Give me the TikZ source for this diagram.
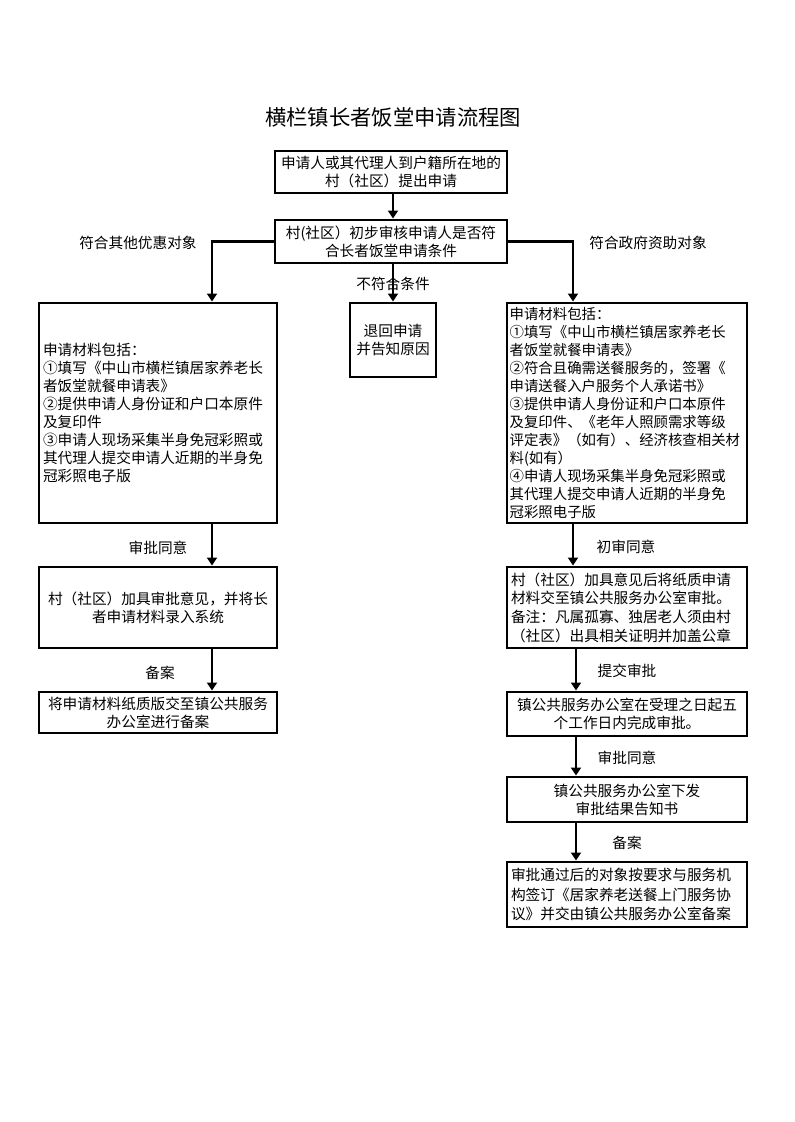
\documentclass[tikz,border=0pt]{standalone}
\usepackage{fontspec}
\setmainfont{Noto Sans CJK SC}
\usetikzlibrary{arrows.meta}
\begin{document}
\begin{tikzpicture}[x=0.75pt,y=-0.75pt,
  box/.style={draw,line width=2.2pt,inner sep=0pt,font=\fontsize{11pt}{13.5pt}\selectfont},
  lbl/.style={inner sep=0pt,font=\fontsize{11pt}{13.5pt}\selectfont},
  arr/.style={line width=2.2pt,-{Triangle[length=6pt,width=7.5pt]}},
  ln/.style={line width=2.2pt}]
\useasboundingbox (0,0) rectangle (794,1122);
\fill[white] (0,0) rectangle (794,1122);

\node[inner sep=0pt,font=\fontsize{16pt}{19pt}\selectfont] (title) at (393,117) {横栏镇长者饭堂申请流程图};

\coordinate (cx) at (393,0);
\coordinate (lx) at (212,0);
\coordinate (rx) at (573,0);
\coordinate (rx2) at (576,0);

\node[box,minimum width=174pt,minimum height=31.5pt,text width=168pt,align=center] (b1) at (391,172)
  {申请人或其代理人到户籍所在地的\\村（社区）提出申请};
\node[box,minimum width=174pt,minimum height=32.25pt,text width=168pt,align=center] (b2) at (391,241.5)
  {村(社区）初步审核申请人是否符\\合长者饭堂申请条件};

\node[box,minimum width=178.5pt,minimum height=165pt,text width=172.5pt,align=left] (lb1) at (158,413)
  {申请材料包括：\\①填写《中山市横栏镇居家养老长\\者饭堂就餐申请表》\\②提供申请人身份证和户口本原件\\及复印件\\③申请人现场采集半身免冠彩照或\\其代理人提交申请人近期的半身免\\冠彩照电子版};

\node[box,minimum width=64.5pt,minimum height=55.5pt,text width=58pt,align=center] (mb) at (393,340)
  {退回申请\\并告知原因};

\node[box,minimum width=180pt,minimum height=165pt,text width=176pt,align=left,font=\fontsize{10.8pt}{13.5pt}\selectfont] (rb1) at (627,413)
  {申请材料包括：\\①填写《中山市横栏镇居家养老长\\者饭堂就餐申请表》\\②符合且确需送餐服务的，签署《\\申请送餐入户服务个人承诺书》\\③提供申请人身份证和户口本原件\\及复印件、《老年人照顾需求等级\\评定表》（如有）、经济核查相关材\\料(如有）\\④申请人现场采集半身免冠彩照或\\其代理人提交申请人近期的半身免\\冠彩照电子版};

\node[box,minimum width=178.5pt,minimum height=60.75pt,text width=172.5pt,align=center] (lb2) at (158,607.5)
  {村（社区）加具审批意见，并将长\\者申请材料录入系统};
\node[box,minimum width=178.5pt,minimum height=30.75pt,text width=172.5pt,align=center] (lb3) at (158,712.5)
  {将申请材料纸质版交至镇公共服务\\办公室进行备案};

\node[box,minimum width=180pt,minimum height=60.75pt,text width=174pt,align=left,font=\fontsize{11pt}{14pt}\selectfont] (rb2) at (627,607.5)
  {村（社区）加具意见后将纸质申请\\材料交至镇公共服务办公室审批。\\备注：凡属孤寡、独居老人须由村\\（社区）出具相关证明并加盖公章};
\node[box,minimum width=180pt,minimum height=33pt,text width=174pt,align=center] (rb3) at (627,714)
  {镇公共服务办公室在受理之日起五\\个工作日内完成审批。};
\node[box,minimum width=180pt,minimum height=33.75pt,text width=174pt,align=center] (rb4) at (627,799.5)
  {镇公共服务办公室下发\\审批结果告知书};
\node[box,minimum width=180pt,minimum height=48.75pt,text width=174pt,align=left,font=\fontsize{11pt}{14.5pt}\selectfont] (rb5) at (627,894.5)
  {审批通过后的对象按要求与服务机\\构签订《居家养老送餐上门服务协\\议》并交由镇公共服务办公室备案};

% labels
\node[lbl] (t1) at (138,243) {符合其他优惠对象};
\node[lbl] (t2) at (648,243) {符合政府资助对象};
\node[lbl] (t3) at (393,284) {不符合条件};
\node[lbl] (t4) at (158,548) {审批同意};
\node[lbl] (t5) at (160,673) {备案};
\node[lbl] (t6) at (626,547) {初审同意};
\node[lbl] (t7) at (627,671) {提交审批};
\node[lbl] (t8) at (627,758) {审批同意};
\node[lbl] (t9) at (627,843) {备案};

% connectors
\draw[arr] (b1.south -| cx) -- (b2.north -| cx);
\draw[arr] (b2.south -| cx) -- (mb.north -| cx);
\draw[arr] (b2.west) -| (lb1.north -| lx);
\draw[arr] (b2.east) -| (rb1.north -| rx);
\draw[arr] (lb1.south -| lx) -- (lb2.north -| lx);
\draw[arr] (lb2.south -| lx) -- (lb3.north -| lx);
\draw[arr] (rb1.south -| rx) -- (rb2.north -| rx);
\draw[arr] (rb2.south -| rx2) -- (rb3.north -| rx2);
\draw[arr] (rb3.south -| rx2) -- (rb4.north -| rx2);
\draw[arr] (rb4.south -| rx2) -- (rb5.north -| rx2);
\end{tikzpicture}
\end{document}
